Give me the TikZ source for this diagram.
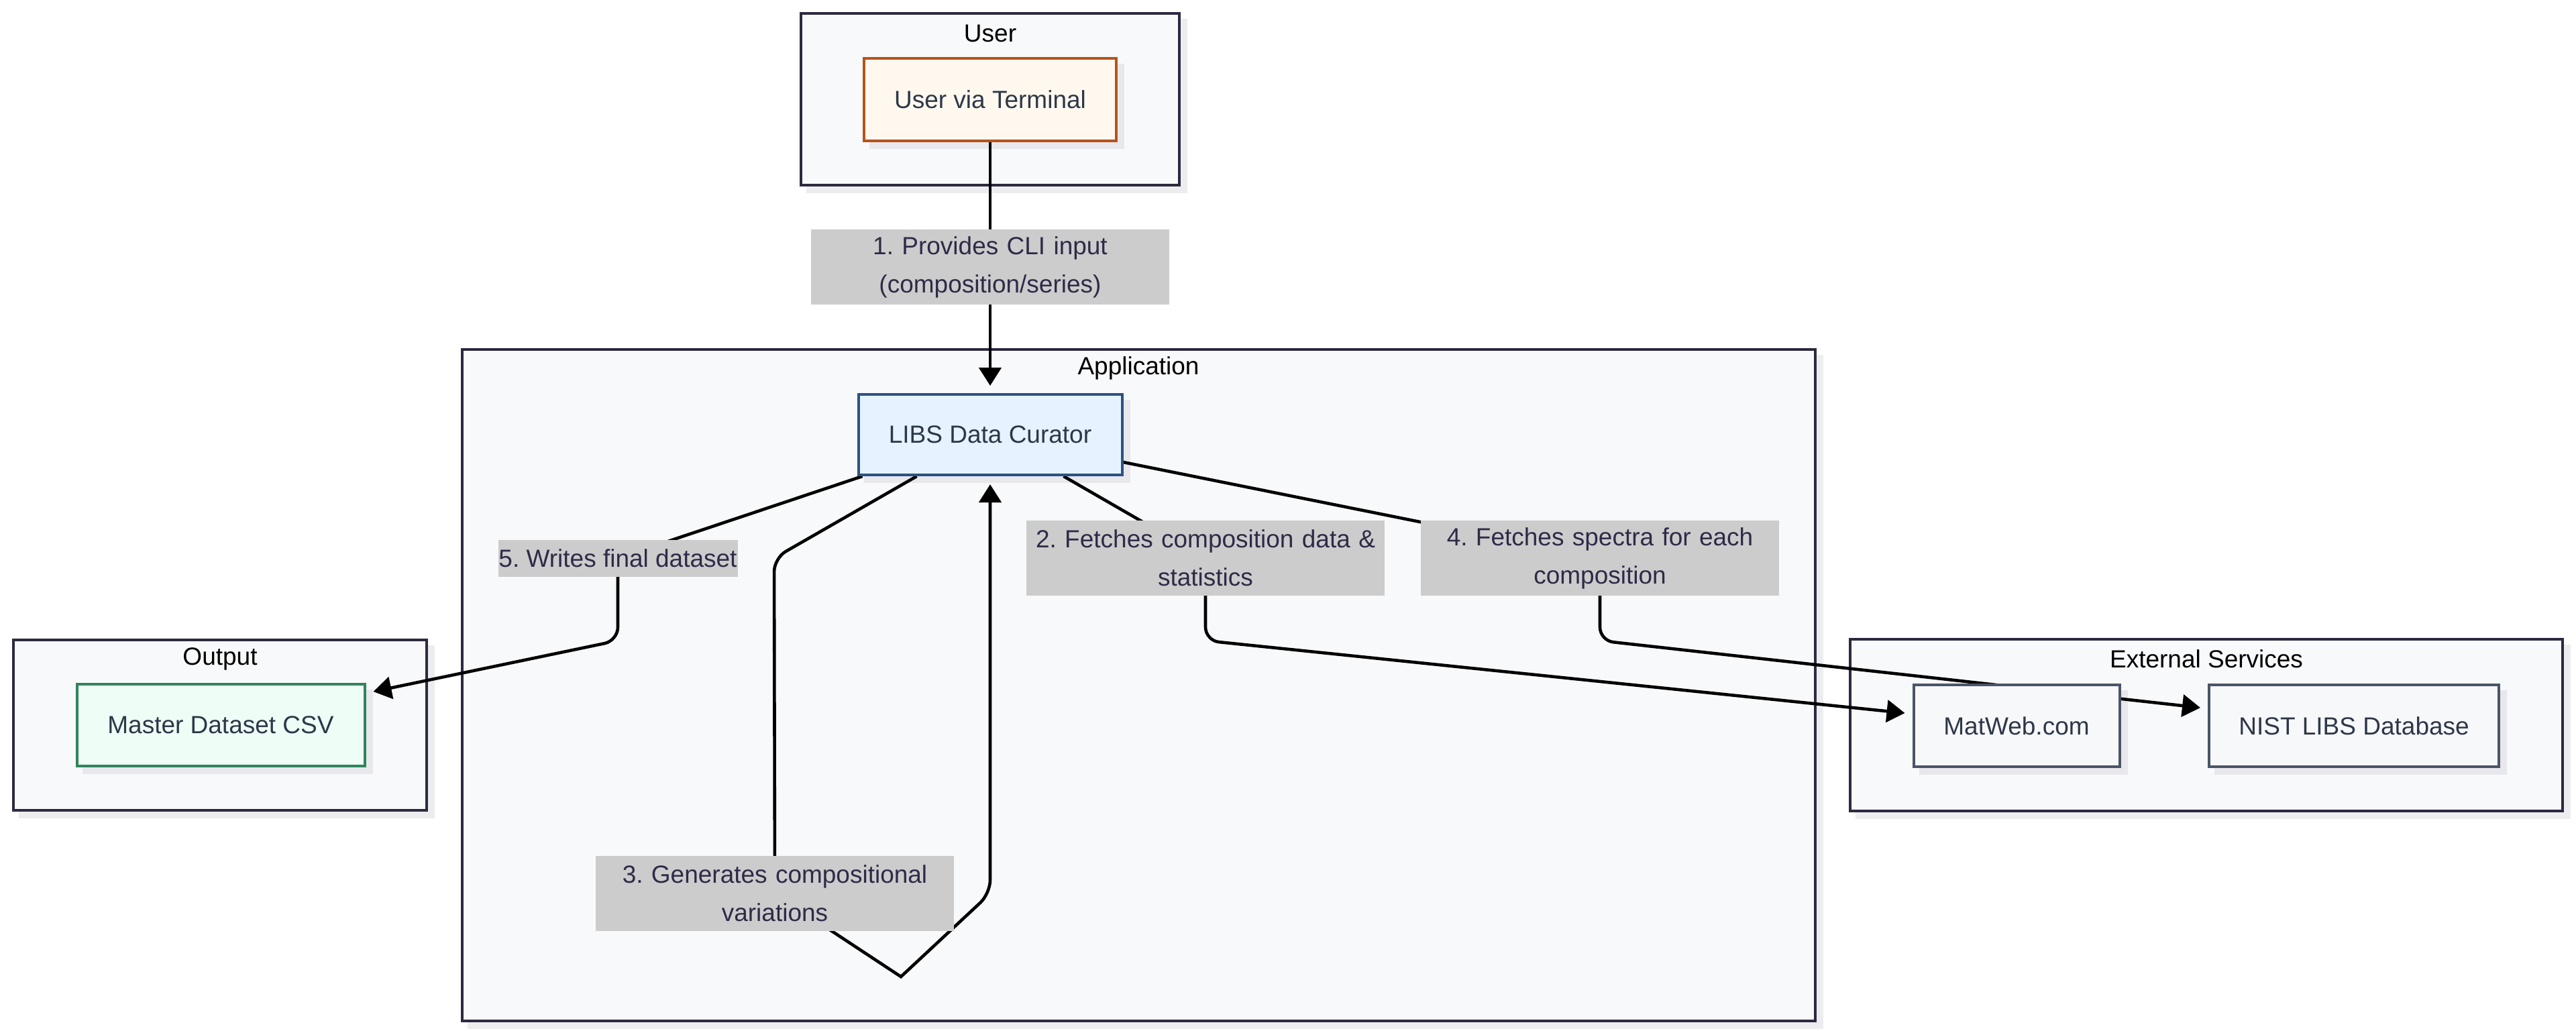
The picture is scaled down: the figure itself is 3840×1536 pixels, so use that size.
\documentclass[tikz,border=0pt]{standalone}
\usepackage{fontspec}
\setmainfont{Liberation Sans}
\usetikzlibrary{arrows.meta,calc}

\definecolor{clusterfill}{HTML}{F8F9FB}
\definecolor{clusterline}{HTML}{2B2A40}
\definecolor{shadowc}{HTML}{E8E8EC}
\definecolor{nodetext}{HTML}{2D3748}
\definecolor{labeltext}{HTML}{2E2B48}
\definecolor{labelgray}{HTML}{CCCCCC}
\definecolor{userfill}{HTML}{FEF8EE}
\definecolor{userline}{HTML}{B5541A}
\definecolor{appfill}{HTML}{E6F2FF}
\definecolor{appline}{HTML}{2C5282}
\definecolor{outfill}{HTML}{EEFDF5}
\definecolor{outline}{HTML}{2F855A}
\definecolor{extfill}{HTML}{F7F8FA}
\definecolor{extline}{HTML}{4A5568}

\pgfdeclarelayer{bgshade}
\pgfdeclarelayer{bg}
\pgfdeclarelayer{shade}
\pgfdeclarelayer{edges}
\pgfsetlayers{bgshade,bg,shade,edges,main}

\newcommand\diagfont{\fontsize{9.25pt}{14.25pt}\selectfont}
\frenchspacing

\begin{document}
\begin{tikzpicture}[x=0.25pt,y=-0.25pt,
  cluster/.style={draw=clusterline,fill=clusterfill,line width=1.1pt,inner sep=0pt},
  ctitle/.style={font=\diagfont,text=black,inner sep=0pt},
  box/.style={draw,line width=1pt,inner sep=0pt,minimum height=30.5pt,
    font=\diagfont,text=nodetext},
  userbox/.style={box,draw=userline,fill=userfill},
  appbox/.style={box,draw=appline,fill=appfill},
  outbox/.style={box,draw=outline,fill=outfill},
  extbox/.style={box,draw=extline,fill=extfill},
  elabel/.style={fill=labelgray,text=labeltext,font=\diagfont,align=center,
    inner sep=0pt},
  twoline/.style={elabel,text width=133.5pt,minimum height=28pt},
  edge/.style={draw=black,line width=1.15pt,-{Triangle[length=6.75pt,width=8.25pt]}}
]
\useasboundingbox (0,0) rectangle (3840,1536);
\begin{pgfonlayer}{bgshade}
  \fill[white] (0,0) rectangle (3840,1536);
\end{pgfonlayer}

% groups
\begin{pgfonlayer}{bg}
  \node[cluster,minimum width=141pt,minimum height=64pt] (cUser) at (1476,148) {};
  \node[cluster,minimum width=504.25pt,minimum height=250.25pt] (cApp) at (1697.5,1021.5) {};
  \node[cluster,minimum width=154pt,minimum height=63.5pt] (cOut) at (328,1081) {};
  \node[cluster,minimum width=265.5pt,minimum height=64pt] (cExt) at (3289,1081) {};
\end{pgfonlayer}
\begin{pgfonlayer}{bgshade}
  \foreach \c in {cUser,cApp,cOut,cExt}
    \fill[shadowc!80!white] ($(\c.north west)+(10,10)$) rectangle ($(\c.south east)+(10,10)$);
\end{pgfonlayer}

\node[ctitle] (tUser) at (1476,50) {User};
\node[ctitle] (tApp) at (1697,549) {Application};
\node[ctitle] (tOut) at (328,982) {Output};
\node[ctitle] (tExt) at (3289,982) {External Services};

% components
\node[userbox,minimum width=94pt,minimum height=30.75pt] (uvt) at (1476,148) {User via Terminal};
\node[appbox,minimum width=98.25pt,minimum height=30pt] (libs) at (1476,648) {LIBS Data Curator};
\node[outbox,minimum width=107.25pt] (csv) at (329,1081) {Master Dataset CSV};
\node[extbox,minimum width=76.75pt] (matweb) at (3006,1082) {MatWeb.com};
\node[extbox,minimum width=108pt] (nist) at (3509,1082) {NIST LIBS Database};

\begin{pgfonlayer}{shade}
  \foreach \n in {uvt,libs,csv,matweb,nist}
    \fill[shadowc] ($(\n.north west)+(10,10)$) rectangle ($(\n.south east)+(10,10)$);
\end{pgfonlayer}

% edge labels
\node[twoline] (l1) at (1476,398) {1. Provides CLI input\\(composition/series)};
\node[twoline] (l2) at (1797,832) {2. Fetches composition data \&\\statistics};
\node[twoline] (l3) at (1155,1332) {3. Generates compositional\\variations};
\node[twoline] (l4) at (2385,832) {4. Fetches spectra for each\\composition};
\node[elabel,minimum width=89.25pt,minimum height=13.75pt] (l5) at (921,832) {5. Writes final dataset};

% connectors
\begin{pgfonlayer}{edges}
  \draw[edge] (uvt.south) -- ($(libs.north)+(0,-11)$);
  \draw[edge,rounded corners=5pt] ($(libs.south east)+(-89,0)$) -- (l2.center)
    -- ($(l2.center)+(0,123)$) -- ($(matweb.west)+(-11,-19)$);
  \draw[edge] ($(libs.south west)+(89,0)$) [rounded corners=5pt]
    -- ($(l3.center)+(-1,-500)$) -- (l3.center) [sharp corners]
    -- ($(l3.center)+(188,124)$) [rounded corners=5pt]
    -- ($(l3.center)+(321,0)$) -- ($(libs.south)+(0,12)$);
  \draw[edge,rounded corners=5pt] ($(libs.south east)+(0,-21)$) -- (l4.center)
    -- ($(l4.center)+(0,123)$) -- ($(nist.west)+(-11,-27)$);
  \draw[edge,rounded corners=5pt] ($(libs.south west)+(8,0)$) -- (l5.center)
    -- ($(l5.center)+(0,123)$) -- ($(csv.north east)+(11,13)$);
\end{pgfonlayer}
\end{tikzpicture}
\end{document}
